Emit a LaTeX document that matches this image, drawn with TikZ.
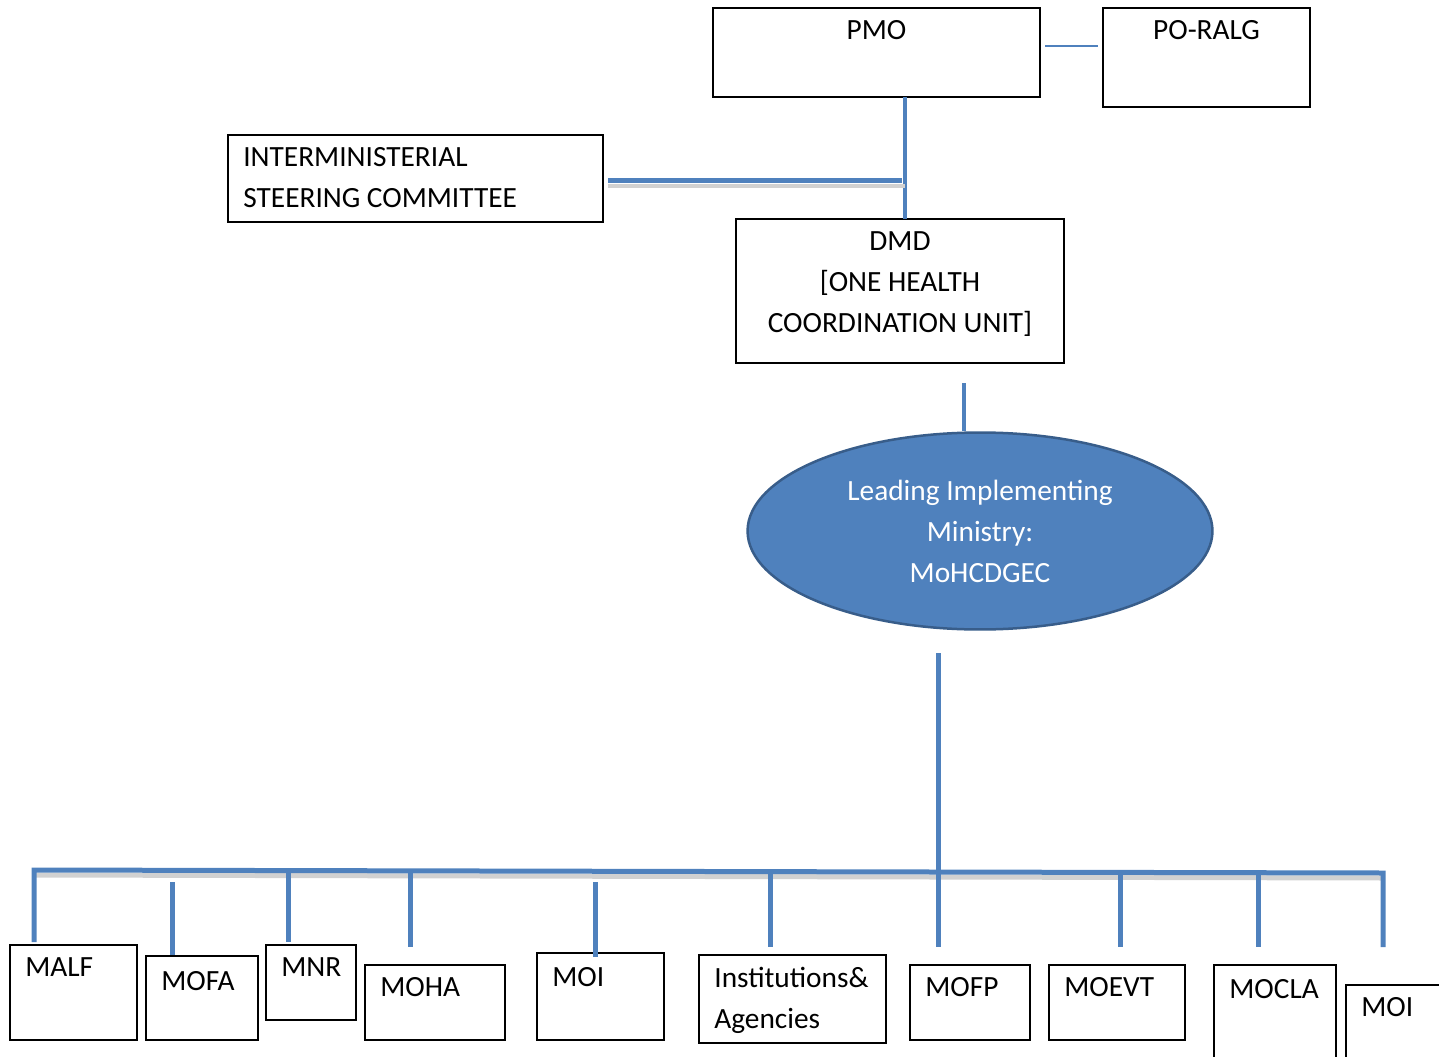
\documentclass[tikz,border=0pt]{standalone}
\usepackage{fontspec}
\setmainfont{Carlito}
\usetikzlibrary{shapes.geometric}

\definecolor{linkblue}{RGB}{79,129,189}
\definecolor{rimblue}{RGB}{56,93,138}
\newcommand\orgfont{\fontsize{16.7}{23.3}\selectfont}

\begin{document}
\begin{tikzpicture}[x=0.02cm,y=-0.02cm,
    box/.style={draw,line width=0.04cm,anchor=north west,inner sep=0pt,outer sep=0pt},
    boxtxt/.style={anchor=north west,inner xsep=0.3cm,inner ysep=0.24cm,align=left,font=\orgfont},
    boxtitle/.style={anchor=north,inner sep=0.24cm,align=center,font=\orgfont},
    lim/.style={ellipse,fill=linkblue,draw=rimblue,line width=0.05cm,text=white,
      minimum width=9.3cm,minimum height=3.94cm,align=center,font=\orgfont},
    link/.style={draw=linkblue,line width=0.1cm},
    thinlink/.style={draw=linkblue,line width=0.04cm},
    lineshadow/.style={draw=black!18,line width=0.1cm,transform canvas={yshift=-0.1cm}}]
  \clip (0,0) rectangle (1439,1057);

  % top part
  \node[box,minimum width=6.54cm,minimum height=1.78cm,label={[boxtitle]north:PMO}] (pmo) at (713,8) {};
  \node[box,minimum width=4.14cm,minimum height=1.98cm,label={[boxtitle]north:PO-RALG}] (poralg) at (1103,8) {};
  \node[box,minimum width=7.5cm,minimum height=1.74cm,
    label={[boxtxt]north west:INTERMINISTERIAL\\STEERING COMMITTEE}] (ism) at (228,135) {};
  \node[box,minimum width=6.56cm,minimum height=2.88cm,
    label={[boxtitle]north:DMD\\{[ONE HEALTH}\\COORDINATION UNIT]}] (dmd) at (736,219) {};
  \node[lim] (lead) at (980,531) {Leading Implementing\\Ministry:\\MoHCDGEC};

  \coordinate (j0) at (1045,46);
  \coordinate (j1) at (905,181);
  \coordinate (j2) at (964,383);
  \coordinate (j3) at (938,653);

  \draw[thinlink,shorten >=0.1cm] (j0) -- (j0 -| poralg.west);
  \draw[link,line width=0.09cm] (j1 |- pmo.south) -- (j1 |- dmd.north);
  \draw[lineshadow,line width=0.08cm,shorten <=0.1cm] (ism.east |- j1) -- (j1);
  \draw[link,shorten <=0.1cm,shorten >=0.06cm] (ism.east |- j1) -- (j1);
  \draw[link,line width=0.09cm] (j2) -- (j2 |- lead.north);

  % ministries
  \node[box,minimum width=2.54cm,minimum height=1.9cm,label={[boxtxt]north west:MALF}] (malf) at (10,945) {};
  \node[box,minimum width=2.24cm,minimum height=1.68cm,label={[boxtxt,inner ysep=0.3cm]north west:MOFA}] (mofa) at (146,956) {};
  \node[box,minimum width=1.8cm,minimum height=1.5cm,label={[boxtxt]north west:MNR}] (mnr) at (266,945) {};
  \node[box,minimum width=2.8cm,minimum height=1.5cm,label={[boxtxt]north west:MOHA}] (moha) at (365,965) {};
  \node[box,minimum width=2.54cm,minimum height=1.74cm,label={[boxtxt,inner ysep=0.28cm]north west:MOI}] (moi) at (537,953) {};
  \node[box,minimum width=3.74cm,minimum height=1.76cm,
    label={[boxtxt]north west:Institutions\&\\Agencies}] (inst) at (699,955) {};
  \node[box,minimum width=2.4cm,minimum height=1.5cm,label={[boxtxt]north west:MOFP}] (mofp) at (910,965) {};
  \node[box,minimum width=2.72cm,minimum height=1.5cm,label={[boxtxt]north west:MOEVT}] (moevt) at (1049,965) {};
  \node[box,minimum width=2.44cm,minimum height=2.1cm,label={[boxtxt,inner ysep=0.28cm]north west:MOCLA}] (mocla) at (1214,965) {};
  \node[box,minimum width=2.08cm,minimum height=1.7cm,label={[boxtxt]north west:MOI}] (moib) at (1346,985) {};

  % bus and drops
  \coordinate (busl) at (34,870);
  \coordinate (busr) at (1383,873);
  \draw[lineshadow] (busl) -- (busr);
  \draw[link,shorten <=0.06cm,shorten >=0.76cm]
    (busl |- malf.north) -- (busl) -- (busr) -- (busr |- moib.north);
  \draw[link,shorten >=0.36cm] (j3) -- (j3 |- mofp.north);
  \foreach \n/\x/\ya/\s in {mofa/172/882/0.02cm, mnr/288/870/0.06cm, moha/410/873/0.36cm,
      moi/595/882/-0.08cm, inst/770/873/0.16cm, moevt/1120/873/0.36cm, mocla/1258/873/0.36cm}
    \draw[link,shorten >=\s] (\x,\ya) -- (\x,\ya |- \n.north);
\end{tikzpicture}
\end{document}
